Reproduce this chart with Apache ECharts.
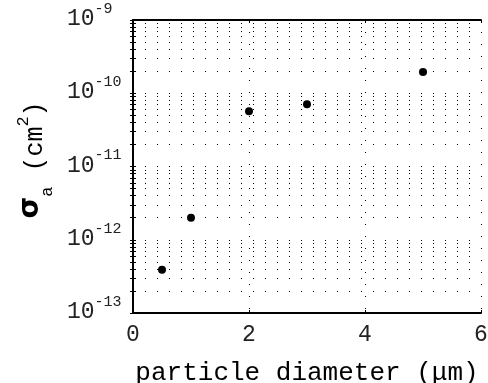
<!DOCTYPE html>
<html>
<head>
<meta charset="utf-8">
<script src="https://cdn.jsdelivr.net/npm/echarts@6/dist/echarts.min.js"></script>
<style>
html, body { margin: 0; padding: 0; background: #fff; }
#chart { width: 488px; height: 383px; }
</style>
</head>
<body>
<div id="chart"></div>
<script>
// absorption cross section vs particle diameter
const diameters = [0.5, 1, 2, 3, 5]
const sigmaA = [3.9e-13, 2.0e-12, 5.7e-11, 7.1e-11, 1.95e-10]
const xTicks = [0, 2, 4, 6]
const decadeExps = [-13, -12, -11, -10, -9]

const decades = decadeExps.map(e => Math.pow(10, e))
// log grid positions: 1..9 x each decade
const logSteps = []
decadeExps.slice(0, -1).forEach(e => {
  for (let k = 1; k <= 9; k++) logSteps.push(k * Math.pow(10, e))
})
logSteps.push(decades[decades.length - 1])

const mono = 'Liberation Mono'
const dotted = [1, 11]

const myEcharts = echarts.init(document.getElementById('chart'))
const option = {
  animation: false,
  grid: { left: 133, right: 7, top: 20, bottom: 70, outerBoundsMode: 'none', containLabel: false },
  xAxis: [
    {
      type: 'value',
      min: xTicks[0],
      max: xTicks[xTicks.length - 1],
      interval: 2,
      position: 'bottom',
      name: 'particle diameter (μm)',
      nameLocation: 'middle',
      nameGap: 47,
      nameTextStyle: { fontFamily: mono, fontSize: 26, color: '#000' },
      axisLine: { lineStyle: { color: '#000', width: 2 } },
      axisTick: { inside: true, length: 3, lineStyle: { color: '#000' } },
      axisLabel: { fontFamily: mono, fontSize: 23, color: '#222', margin: 10 },
      splitLine: { show: true, lineStyle: { color: '#000', type: dotted, width: 1 } }
    },
    {
      type: 'value',
      min: xTicks[0],
      max: xTicks[xTicks.length - 1],
      interval: 2,
      position: 'top',
      axisLine: { lineStyle: { color: '#000', width: 2 } },
      axisTick: { inside: true, length: 3, lineStyle: { color: '#000' } },
      axisLabel: { show: false },
      splitLine: { show: false }
    }
  ],
  yAxis: [
    {
      type: 'log',
      logBase: 10,
      min: decades[0],
      max: decades[decades.length - 1],
      position: 'left',
      name: '{sig|σ}{sub|a}{t| (cm}{sup|2}{t|)}',
      nameLocation: 'middle',
      nameRotate: 90,
      nameGap: 77,
      nameTextStyle: {
        padding: [0, 0, 0, 13],
        rich: {
          sig: { fontFamily: 'DejaVu Sans', fontWeight: 'bold', fontSize: 28, color: '#000', verticalAlign: 'bottom', padding: [0, 0, 11, 0] },
          sub: { fontFamily: mono, fontSize: 17, color: '#000', verticalAlign: 'bottom' },
          t: { fontFamily: mono, fontSize: 25, color: '#000', verticalAlign: 'bottom', padding: [0, 0, 8, 0] },
          sup: { fontFamily: mono, fontSize: 17, color: '#000', verticalAlign: 'top', padding: [0, 0, 24, 0] }
        }
      },
      axisLine: { lineStyle: { color: '#000', width: 2 } },
      axisTick: { inside: true, length: 3, customValues: logSteps, lineStyle: { color: '#000' } },
      axisLabel: {
        customValues: decades,
        align: 'left',
        margin: 66,
        padding: [0, 0, 8, 0],
        formatter: v => '{b|10}{s|' + Math.round(Math.log10(v)) + '}',
        rich: {
          b: { fontFamily: mono, fontSize: 23, color: '#222', verticalAlign: 'bottom' },
          s: { fontFamily: mono, fontSize: 15, color: '#222', verticalAlign: 'top', padding: [0, 0, 14, 0] }
        }
      },
      splitLine: { show: true, lineStyle: { color: '#000', type: dotted, width: 1 } }
    },
    {
      type: 'log',
      logBase: 10,
      min: decades[0],
      max: decades[decades.length - 1],
      position: 'right',
      axisLine: { lineStyle: { color: '#000', width: 2 } },
      axisTick: { inside: true, length: 3, customValues: logSteps, lineStyle: { color: '#000' } },
      axisLabel: { show: false },
      splitLine: { show: false }
    }
  ],
  series: [
    {
      type: 'scatter',
      data: diameters.map((d, i) => [d, sigmaA[i]]),
      symbolSize: 8,
      itemStyle: { color: '#000', opacity: 1 }
    }
  ]
}
myEcharts.setOption(option)
</script>
</body>
</html>
